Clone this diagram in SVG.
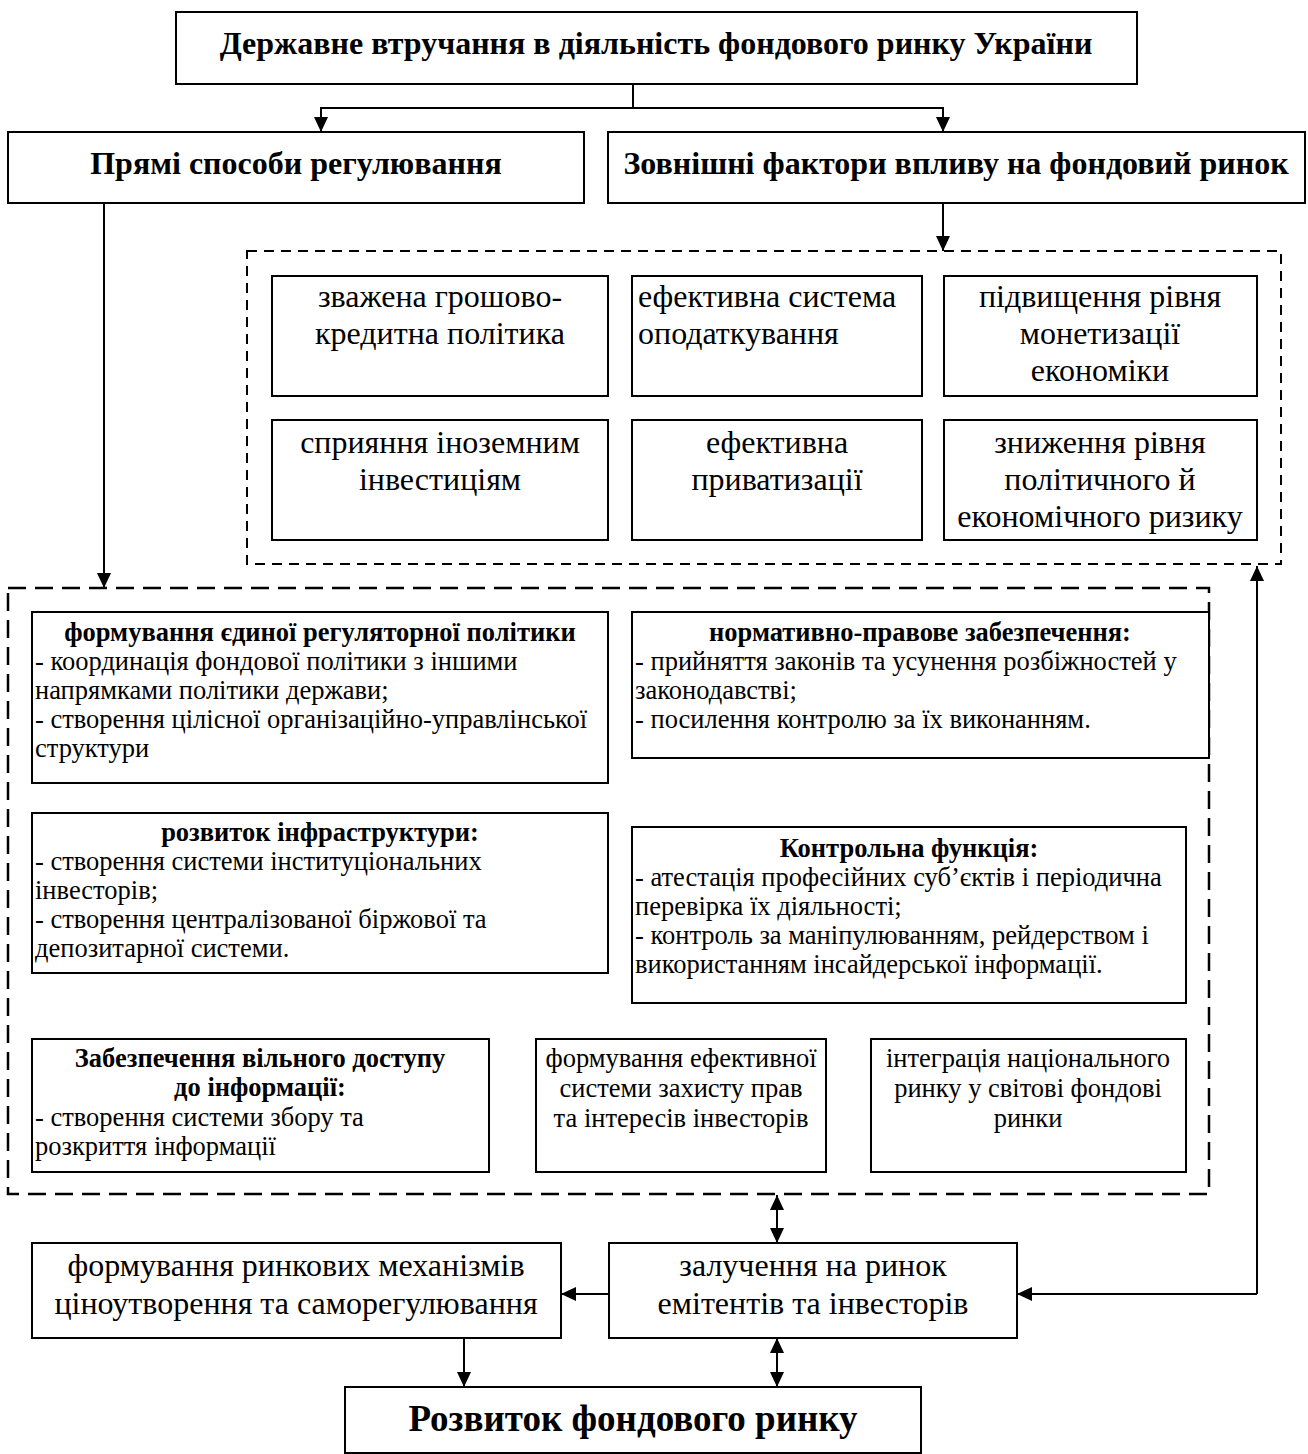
<svg xmlns="http://www.w3.org/2000/svg" width="1308" height="1454" viewBox="0 0 1308 1454">
<style>
text{font-family:"Liberation Serif","Times New Roman",serif;fill:#000}
.box{fill:#fff;stroke:#000;stroke-width:2}
.dash1{fill:none;stroke:#000;stroke-width:2;stroke-dasharray:10 7}
.dash2{fill:none;stroke:#000;stroke-width:2.5;stroke-dasharray:18 9}
.ln{fill:none;stroke:#000;stroke-width:2}
.h{font-size:32px;font-weight:bold;text-anchor:middle}
.m{font-size:32px;text-anchor:middle}
.ml{font-size:32px}
.s{font-size:26.5px}
.sc{font-size:26.5px;text-anchor:middle}
.sb{font-size:26.5px;font-weight:bold;text-anchor:middle}
.big{font-size:37px;font-weight:bold;text-anchor:middle}
</style>
<defs>
<marker id="ah" viewBox="0 0 15 14" refX="15" refY="7" markerWidth="15" markerHeight="14" markerUnits="userSpaceOnUse" orient="auto-start-reverse">
<path d="M0,0 L15,7 L0,14 z" fill="#000"/>
</marker>
</defs>

<g id="connectors">
<path class="ln" d="M633,84 V108"/>
<path class="ln" d="M633,108 H321 V132" marker-end="url(#ah)"/>
<path class="ln" d="M633,108 H943 V132" marker-end="url(#ah)"/>
<path class="ln" d="M943,203 V251" marker-end="url(#ah)"/>
<path class="ln" d="M104,203 V588" marker-end="url(#ah)"/>
<path class="ln" d="M609,1294 H561" marker-end="url(#ah)"/>
<path class="ln" d="M1257,1294 V566" marker-end="url(#ah)"/>
<path class="ln" d="M1257,1294 H1017" marker-end="url(#ah)"/>
<path class="ln" d="M777,1195 V1243" marker-start="url(#ah)" marker-end="url(#ah)"/>
<path class="ln" d="M777,1338 V1387" marker-start="url(#ah)" marker-end="url(#ah)"/>
<path class="ln" d="M464,1338 V1387" marker-end="url(#ah)"/>
</g>

<g id="n-top">
<rect class="box" x="176" y="12" width="961" height="72"/>
<text class="h" x="656" y="54">Державне втручання в діяльність фондового ринку України</text>
</g>
<g id="n-direct">
<rect class="box" x="8" y="132" width="576" height="71"/>
<text class="h" x="296" y="174">Прямі способи регулювання</text>
</g>
<g id="n-external">
<rect class="box" x="608" y="132" width="697" height="71"/>
<text class="h" x="956" y="174">Зовнішні фактори впливу на фондовий ринок</text>
</g>

<g id="n-external-group">
<rect class="dash1" x="247" y="251" width="1034" height="313"/>
</g>
<g id="n-a1">
<rect class="box" x="272" y="276" width="336" height="120"/>
<text class="m" x="440" y="307">зважена грошово-</text>
<text class="m" x="440" y="344">кредитна політика</text>
</g>
<g id="n-a2">
<rect class="box" x="632" y="276" width="290" height="120"/>
<text class="ml" x="638" y="307">ефективна система</text>
<text class="ml" x="638" y="344">оподаткування</text>
</g>
<g id="n-a3">
<rect class="box" x="944" y="276" width="313" height="120"/>
<text class="m" x="1100" y="307">підвищення рівня</text>
<text class="m" x="1100" y="344">монетизації</text>
<text class="m" x="1100" y="381">економіки</text>
</g>
<g id="n-a4">
<rect class="box" x="272" y="420" width="336" height="120"/>
<text class="m" x="440" y="453">сприяння іноземним</text>
<text class="m" x="440" y="490">інвестиціям</text>
</g>
<g id="n-a5">
<rect class="box" x="632" y="420" width="290" height="120"/>
<text class="m" x="777" y="453">ефективна</text>
<text class="m" x="777" y="490">приватизації</text>
</g>
<g id="n-a6">
<rect class="box" x="944" y="420" width="313" height="120"/>
<text class="m" x="1100" y="453">зниження рівня</text>
<text class="m" x="1100" y="490">політичного й</text>
<text class="m" x="1100" y="527">економічного ризику</text>
</g>

<g id="n-direct-group">
<rect class="dash2" x="8" y="588" width="1201" height="606"/>
</g>
<g id="n-b1">
<rect class="box" x="32" y="612" width="576" height="171"/>
<text class="sb" x="320" y="641">формування єдиної регуляторної політики</text>
<text class="s" x="35" y="670">- координація фондової політики з іншими</text>
<text class="s" x="35" y="699">напрямками політики держави;</text>
<text class="s" x="35" y="728">- створення цілісної організаційно-управлінської</text>
<text class="s" x="35" y="757">структури</text>
</g>
<g id="n-b2">
<rect class="box" x="632" y="612" width="577" height="146"/>
<text class="sb" x="920" y="641">нормативно-правове забезпечення:</text>
<text class="s" x="635" y="670">- прийняття законів та усунення розбіжностей у</text>
<text class="s" x="635" y="699">законодавстві;</text>
<text class="s" x="635" y="728">- посилення контролю за їх виконанням.</text>
</g>
<g id="n-b3">
<rect class="box" x="32" y="813" width="576" height="160"/>
<text class="sb" x="320" y="841">розвиток інфраструктури:</text>
<text class="s" x="35" y="870">- створення системи інституціональних</text>
<text class="s" x="35" y="899">інвесторів;</text>
<text class="s" x="35" y="928">- створення централізованої біржової та</text>
<text class="s" x="35" y="957">депозитарної системи.</text>
</g>
<g id="n-b4">
<rect class="box" x="632" y="827" width="554" height="176"/>
<text class="sb" x="909" y="857">Контрольна функція:</text>
<text class="s" x="635" y="886">- атестація професійних суб’єктів і періодична</text>
<text class="s" x="635" y="915">перевірка їх діяльності;</text>
<text class="s" x="635" y="944">- контроль за маніпулюванням, рейдерством і</text>
<text class="s" x="635" y="973">використанням інсайдерської інформації.</text>
</g>
<g id="n-b5">
<rect class="box" x="32" y="1039" width="457" height="133"/>
<text class="sb" x="260" y="1067">Забезпечення вільного доступу</text>
<text class="sb" x="260" y="1096">до інформації:</text>
<text class="s" x="35" y="1126">- створення системи збору та</text>
<text class="s" x="35" y="1155">розкриття інформації</text>
</g>
<g id="n-b6">
<rect class="box" x="536" y="1039" width="290" height="133"/>
<text class="sc" x="681" y="1067">формування ефективної</text>
<text class="sc" x="681" y="1097">системи захисту прав</text>
<text class="sc" x="681" y="1127">та інтересів інвесторів</text>
</g>
<g id="n-b7">
<rect class="box" x="871" y="1039" width="315" height="133"/>
<text class="sc" x="1028" y="1067">інтеграція національного</text>
<text class="sc" x="1028" y="1097">ринку у світові фондові</text>
<text class="sc" x="1028" y="1127">ринки</text>
</g>

<g id="n-c1">
<rect class="box" x="32" y="1243" width="529" height="95"/>
<text class="m" x="296" y="1276">формування ринкових механізмів</text>
<text class="m" x="296" y="1314">ціноутворення та саморегулювання</text>
</g>
<g id="n-c2">
<rect class="box" x="609" y="1243" width="408" height="95"/>
<text class="m" x="813" y="1276">залучення на ринок</text>
<text class="m" x="813" y="1314">емітентів та інвесторів</text>
</g>
<g id="n-d">
<rect class="box" x="345" y="1387" width="576" height="66"/>
<text class="big" x="633" y="1431">Розвиток фондового ринку</text>
</g>
</svg>
